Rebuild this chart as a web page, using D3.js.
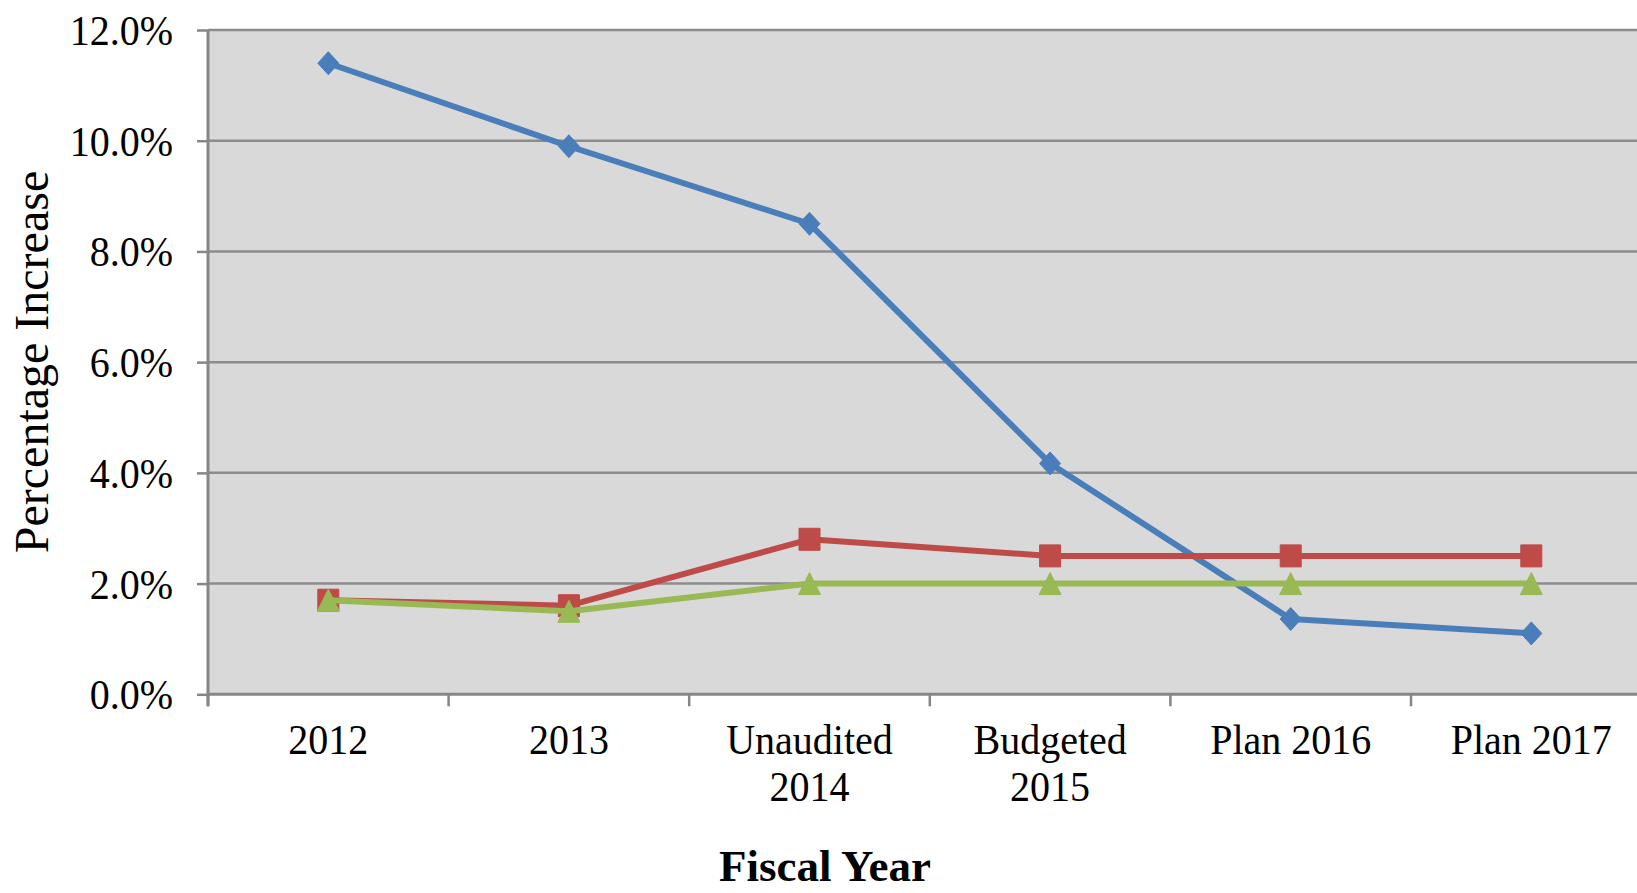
<!DOCTYPE html>
<html>
<head>
<meta charset="utf-8">
<script src="https://cdn.jsdelivr.net/npm/d3@7"></script>
<style>
  body { margin: 0; background: #fff; }
  text { font-family: "Liberation Serif", "Times New Roman", serif; }
</style>
</head>
<body>
<div class="canvas"></div>
<script>
const categories = [['2012'], ['2013'], ['Unaudited', '2014'], ['Budgeted', '2015'], ['Plan 2016'], ['Plan 2017']];
const blueValues = [11.4, 9.9, 8.5, 4.17, 1.36, 1.1];
const redValues = [1.7, 1.6, 2.8, 2.5, 2.5, 2.5];
const greenValues = [1.7, 1.5, 2.0, 2.0, 2.0, 2.0];
const yTicks = [0, 2, 4, 6, 8, 10, 12];

const width = 1637;
const height = 893;

const svg = d3.select('.canvas').append('svg')
  .attr('width', width)
  .attr('height', height);

const margin = { top: 30, left: 208 };
const bandWidth = 240.6;
const graphHeight = 694.3 - margin.top;

const graph = svg.append('g')
  .attr('transform', `translate(${margin.left}, ${margin.top})`);

const x = d3.scaleBand()
  .domain(categories.map((c, i) => i))
  .range([0, bandWidth * categories.length]);

const y = d3.scaleLinear()
  .domain([0, 12])
  .range([graphHeight, 0]);

// plot background
graph.append('rect')
  .attr('x', 0)
  .attr('y', 0)
  .attr('width', width - margin.left)
  .attr('height', graphHeight)
  .attr('fill', '#d9d9d9');

// gridlines
graph.selectAll('.grid').data(yTicks.filter(t => t > 0)).enter().append('line')
  .attr('x1', 0)
  .attr('x2', width - margin.left)
  .attr('y1', d => y(d))
  .attr('y2', d => y(d))
  .attr('stroke', '#8c8c8c')
  .attr('stroke-width', 2.5);

// y axis
const yAxis = d3.axisLeft(y)
  .tickValues(yTicks)
  .tickSize(11)
  .tickPadding(24)
  .tickFormat(d => d.toFixed(1) + '%');

const yAxisGroup = graph.append('g').call(yAxis);
yAxisGroup.select('.domain').remove();
yAxisGroup.selectAll('line').attr('stroke', '#868686').attr('stroke-width', 2.5);
yAxisGroup.selectAll('text')
  .attr('font-size', 40)
  .attr('fill', '#000')
  .attr('dy', '0.34em')
  .attr('transform', 'scale(1, 1.06)');

// x axis
const xAxisGroup = graph.append('g').attr('transform', `translate(0, ${graphHeight})`);
const tickPositions = d3.range(categories.length + 1).map(i => i * bandWidth);
xAxisGroup.selectAll('.xtick').data(tickPositions).enter().append('line')
  .attr('x1', d => d)
  .attr('x2', d => d)
  .attr('y1', 0)
  .attr('y2', 12)
  .attr('stroke', '#868686')
  .attr('stroke-width', 2.5);

xAxisGroup.selectAll('.xlabel').data(categories).enter().append('text')
  .attr('text-anchor', 'middle')
  .attr('font-size', 40)
  .attr('fill', '#000')
  .attr('transform', (d, i) => `translate(${x(i) + x.bandwidth() / 2}, 60) scale(1, 1.06)`)
  .selectAll('tspan').data(d => d).enter().append('tspan')
  .attr('x', 0)
  .attr('y', (d, i) => i * 44)
  .text(d => d);

// axis lines
graph.append('line')
  .attr('x1', 0).attr('x2', width - margin.left)
  .attr('y1', graphHeight).attr('y2', graphHeight)
  .attr('stroke', '#868686').attr('stroke-width', 3);
graph.append('line')
  .attr('x1', 0).attr('x2', 0)
  .attr('y1', 0).attr('y2', graphHeight + 12)
  .attr('stroke', '#868686').attr('stroke-width', 3);

// marker shapes (w x h), drawn centred on the point
const shapes = {
  diamond: (w, h) => `M0,${-h / 2}L${w / 2},0L0,${h / 2}L${-w / 2},0Z`,
  square: (w, h) => `M${-w / 2},${-h / 2}H${w / 2}V${h / 2}H${-w / 2}Z`,
  triangle: (w, h) => `M0,${-h / 2}L${w / 2},${h / 2}H${-w / 2}Z`
};

const series = [
  { values: blueValues, color: '#4a7ebb', shape: 'diamond', w: 21, h: 23 },
  { values: redValues, color: '#be4b48', shape: 'square', w: 21, h: 22 },
  { values: greenValues, color: '#98b954', shape: 'triangle', w: 22, h: 22 }
];

const line = d3.line()
  .x((d, i) => x(i) + x.bandwidth() / 2)
  .y(d => y(d));

series.forEach(s => {
  graph.append('path')
    .datum(s.values)
    .attr('d', line)
    .attr('fill', 'none')
    .attr('stroke', s.color)
    .attr('stroke-width', 6)
    .attr('stroke-linejoin', 'round');

  graph.selectAll(null).data(s.values).enter().append('path')
    .attr('d', shapes[s.shape](s.w, s.h))
    .attr('transform', (d, i) => `translate(${x(i) + x.bandwidth() / 2}, ${y(d)})`)
    .attr('fill', s.color)
    .attr('stroke', s.color)
    .attr('stroke-width', 1)
    .attr('stroke-linejoin', 'round');
});

// axis titles
svg.append('text')
  .attr('transform', `translate(48, 362) rotate(-90)`)
  .attr('text-anchor', 'middle')
  .attr('font-size', 48)
  .attr('fill', '#000')
  .text('Percentage Increase');

svg.append('text')
  .attr('x', 825)
  .attr('y', 881)
  .attr('text-anchor', 'middle')
  .attr('font-size', 45)
  .attr('font-weight', 'bold')
  .attr('fill', '#000')
  .text('Fiscal Year');
</script>
</body>
</html>
